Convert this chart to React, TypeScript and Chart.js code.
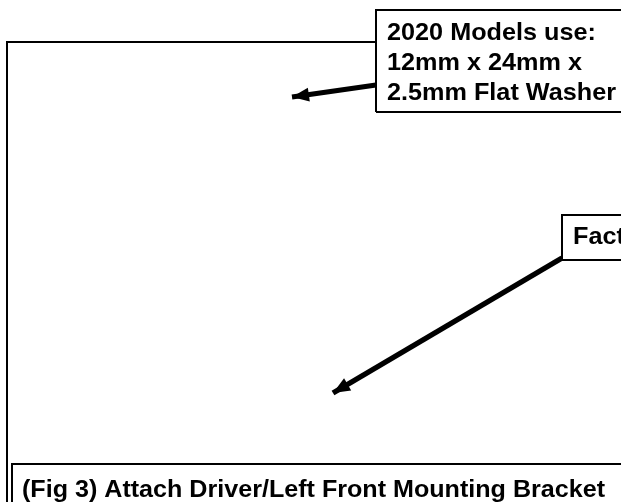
import React, { useEffect, useRef } from "react";
import { Chart, registerables } from "chart.js";
Chart.register(...registerables);

// Figure content (coordinate space: 0..621 wide, 0..502 tall, y downwards)
const frameX = [7, 7, 376];
const frameY = [505, 42, 42];

const washerBoxX = [376, 376, 625, 625, 376];
const washerBoxY = [112, 10, 10, 112, 112];

const factoryBoxX = [625, 562, 562, 625];
const factoryBoxY = [215, 215, 260, 260];

const captionBoxX = [12, 12, 625];
const captionBoxY = [505, 464, 464];

const arrow1X = [376, 292];
const arrow1Y = [85, 97];
const arrow2X = [562, 333];
const arrow2Y = [258, 393];

const washerLines = ["2020 Models use:", "12mm x 24mm x", "2.5mm Flat Washer"];
const washerLineX = [387, 387, 387];
const washerLineY = [40, 70, 100];
const factoryText = "Factory";
const factoryTextPos = [573, 244];
const captionText = "(Fig 3) Attach Driver/Left Front Mounting Bracket";
const captionTextPos = [22, 497];

const pts = (xs: number[], ys: number[]) => xs.map((x, i) => ({ x, y: ys[i] }));

export default function App() {
  const ref = useRef<HTMLCanvasElement>(null);
  useEffect(() => {
    document.body.style.margin = "0";
    const ctxEl = ref.current!;
    const lineDs = (data: any, w: number) => ({
      data,
      showLine: true,
      borderColor: "#000",
      borderWidth: w,
      pointRadius: 0,
      fill: false,
      tension: 0,
      borderJoinStyle: "miter" as const,
      borderCapStyle: "butt" as const,
    });
    const textPlugin = {
      id: "figText",
      afterDatasetsDraw(chart: any) {
        const { ctx, scales } = chart;
        const sx = (v: number) => scales.x.getPixelForValue(v);
        const sy = (v: number) => scales.y.getPixelForValue(v);
        const heads = [
          [arrow1X, arrow1Y],
          [arrow2X, arrow2Y],
        ];
        ctx.save();
        ctx.fillStyle = "#000";
        for (const [xs, ys] of heads) {
          const x0 = sx(xs[0]), y0 = sy(ys[0]);
          const x1 = sx(xs[1]), y1 = sy(ys[1]);
          const a = Math.atan2(y1 - y0, x1 - x0);
          const L = 17, W = 7;
          ctx.beginPath();
          ctx.moveTo(x1, y1);
          ctx.lineTo(x1 - L * Math.cos(a) + W * Math.sin(a), y1 - L * Math.sin(a) - W * Math.cos(a));
          ctx.lineTo(x1 - L * Math.cos(a) - W * Math.sin(a), y1 - L * Math.sin(a) + W * Math.cos(a));
          ctx.closePath();
          ctx.fill();
        }
        ctx.textBaseline = "alphabetic";
        ctx.textAlign = "left";
        const drawStretched = (t: string, x: number, y: number, k: number) => {
          ctx.save();
          ctx.translate(x, y);
          ctx.scale(k, 1);
          ctx.fillText(t, 0, 0);
          ctx.restore();
        };
        ctx.font = 'bold 24px "Liberation Sans", Arial, sans-serif';
        const kW = 229 / ctx.measureText(washerLines[2]).width;
        washerLines.forEach((t, i) => drawStretched(t, sx(washerLineX[i]), sy(washerLineY[i]), kW));
        drawStretched(factoryText, sx(factoryTextPos[0]), sy(factoryTextPos[1]), kW);
        ctx.font = 'bold 23px "Liberation Sans", Arial, sans-serif';
        const kC = 583 / ctx.measureText(captionText).width;
        drawStretched(captionText, sx(captionTextPos[0]), sy(captionTextPos[1]), kC);
        ctx.restore();
      },
    };
    const chart = new Chart(ctxEl, {
      type: "scatter",
      data: {
        datasets: [
          lineDs(pts(frameX, frameY), 2),
          lineDs(pts(washerBoxX, washerBoxY), 2),
          lineDs(pts(factoryBoxX, factoryBoxY), 2),
          lineDs(pts(captionBoxX, captionBoxY), 2),
          lineDs(pts(arrow1X, arrow1Y), 5),
          lineDs(pts(arrow2X, arrow2Y), 5.5),
        ],
      },
      options: {
        responsive: false,
        animation: false,
        layout: { padding: 0 },
        plugins: { legend: { display: false }, tooltip: { enabled: false }, title: { display: false } },
        scales: {
          x: { type: "linear", min: 0, max: 621, display: false },
          y: { type: "linear", min: 0, max: 502, reverse: true, display: false },
        },
      },
      plugins: [textPlugin],
    });
    return () => chart.destroy();
  }, []);
  return (
    <div style={{ position: "absolute", left: 0, top: 0, width: 621, height: 502, background: "#fff" }}>
      <canvas ref={ref} width={621} height={502} />
    </div>
  );
}
